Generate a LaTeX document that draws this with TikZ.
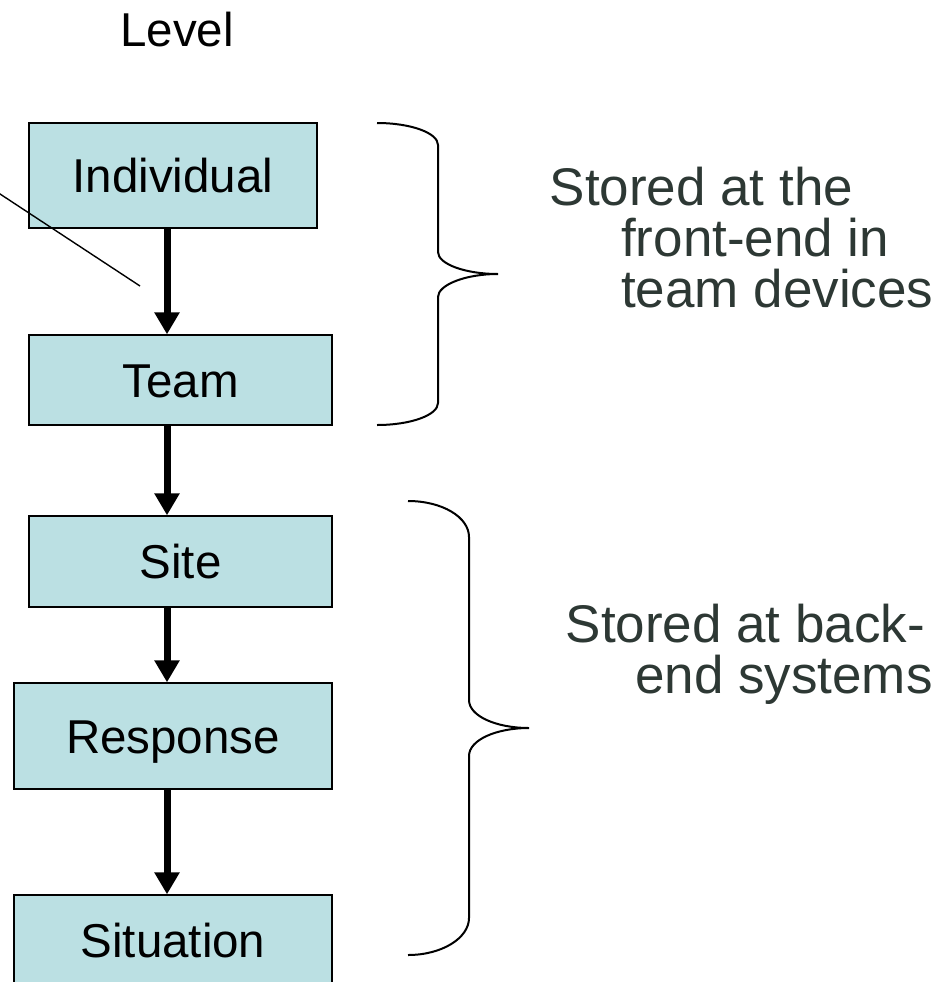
\documentclass[tikz,border=0pt]{standalone}
\usepackage{fontspec}
\setmainfont{Liberation Sans}
\usetikzlibrary{arrows.meta}
\definecolor{boxfill}{HTML}{BBE0E3}
\definecolor{notegray}{RGB}{45,56,52}

\begin{document}
\begin{tikzpicture}[x=1pt,y=-1pt,
  lvlbox/.style={draw=black, line width=1.3pt, fill=boxfill, inner sep=0pt,
    text height=34pt, text depth=0pt, font=\fontsize{47.5}{56}\selectfont},
  flow/.style={line width=7pt, -{Triangle[length=22pt,width=24pt]}},
  bracket/.style={line width=2pt},
  pointer/.style={line width=1.4pt},
  noteline/.style={anchor=base west, inner sep=0pt, text=notegray,
    font=\fontsize{53}{62}\selectfont}]

\useasboundingbox (0,0) rectangle (938,982);

% heading
\node[anchor=base, inner sep=0pt, font=\fontsize{47.5}{56}\selectfont] (lvl) at (177,47) {Level};

% levels of the hierarchy
\node[lvlbox, minimum width=288pt, minimum height=105pt] (ind)  at (173,175.5) {Individual};
\node[lvlbox, minimum width=303pt, minimum height=90pt]  (team) at (180.5,380)  {Team};
\node[lvlbox, minimum width=303pt, minimum height=91pt]  (site) at (180.5,561.5) {Site};
\node[lvlbox, minimum width=318pt, minimum height=106pt] (resp) at (173,736)   {Response};
\node[lvlbox, minimum width=318pt, minimum height=90pt]  (situ) at (173,940)   {Situation};

% common x position of the flow arrows
\coordinate (ax) at (167,0);
\draw[flow] (ind.south -| ax)  -- (team.north -| ax);
\draw[flow] (team.south -| ax) -- (site.north -| ax);
\draw[flow] (site.south -| ax) -- (resp.north -| ax);
\draw[flow] (resp.south -| ax) -- (situ.north -| ax);

% thin pointer line
\coordinate (pa) at (-10,187.4);
\coordinate (pb) at (140,286);
\draw[pointer] (pa) -- (pb);

% upper brace
\draw[bracket] (377,123) .. controls (411,123) and (438,133) .. (438,145)
  -- (438,252) .. controls (438,264) and (465,274) .. (498,274)
  .. controls (465,274) and (438,285) .. (438,297)
  -- (438,403) .. controls (438,415) and (411,425) .. (377,425);

% lower brace
\draw[bracket] (408,501) .. controls (442,501) and (469,517) .. (469,537)
  -- (469,700) .. controls (469,716) and (496,728) .. (529,728)
  .. controls (496,728) and (469,740) .. (469,756)
  -- (469,918) .. controls (469,938) and (442,955) .. (408,955);

% storage notes
\node[noteline] (n1a) at (549.5,205) {Stored at the};
\node[noteline] (n1b) at (621,256) {front-end in};
\node[noteline] (n1c) at (621,307) {team devices};
\node[noteline] (n2a) at (565.5,642) {Stored at back-};
\node[noteline] (n2b) at (635,693) {end systems};

\end{tikzpicture}
\end{document}
